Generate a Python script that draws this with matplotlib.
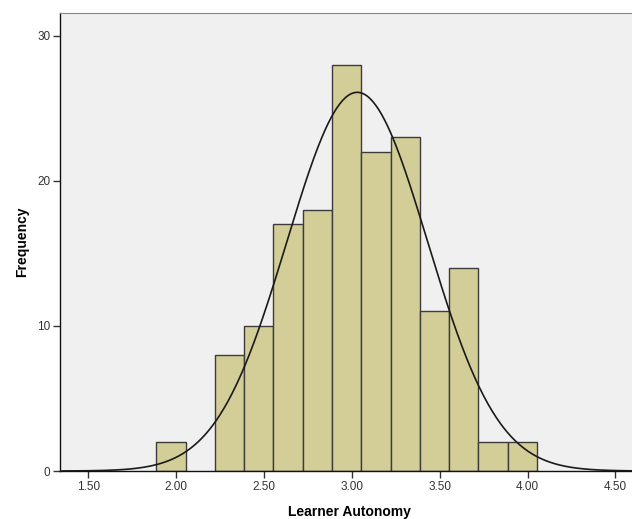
import numpy as np
import matplotlib
matplotlib.use("Agg")
import matplotlib.pyplot as plt

# histogram bins (width 1/6)
bin_start = 1.886
bin_width = 1.0 / 6
counts = [2, 0, 8, 10, 17, 18, 28, 22, 23, 11, 14, 2, 2]

# fitted normal curve
mean = 3.03
std_dev = 0.40
n_total = sum(counts)

xticks = [1.50, 2.00, 2.50, 3.00, 3.50, 4.00, 4.50]
yticks = [0, 10, 20, 30]

plt.rcParams['font.family'] = ['Liberation Sans', 'DejaVu Sans']

fig = plt.figure(figsize=(6.32, 5.19), dpi=100)
ax = fig.add_axes([60 / 632, 48 / 519, 1.0 - 60 / 632 + 0.01, (471 - 12.5) / 519])
ax.set_facecolor('#F0F0F0')

edges = bin_start + bin_width * np.arange(len(counts))
for left, c in zip(edges, counts):
    if c > 0:
        ax.bar(left, c, width=bin_width, align='edge', color='#D3CE98',
               edgecolor='#3C3C3C', linewidth=1.0, zorder=2)

xs = np.linspace(1.35, 4.65, 400)
ys = n_total * bin_width / (std_dev * np.sqrt(2 * np.pi)) * np.exp(-0.5 * ((xs - mean) / std_dev) ** 2)
ax.plot(xs, ys, color='#1a1a1a', linewidth=1.2, zorder=3)

ax.set_xlim(1.338, 4.63)
ax.set_ylim(0, 31.6)
ax.set_xticks(xticks)
ax.set_xticklabels(["%.2f" % t for t in xticks])
ax.set_yticks(yticks)
ax.tick_params(axis='both', direction='out', length=5, width=1.0,
               labelsize=8.5, colors='#333333', pad=2)

for side in ['left', 'bottom']:
    ax.spines[side].set_color('#111111')
    ax.spines[side].set_linewidth(1.0)
ax.spines['top'].set_color('#888888')
ax.spines['right'].set_visible(False)

ax.set_xlabel('Learner Autonomy', fontsize=10, fontweight='bold', labelpad=9)
ax.set_ylabel('Frequency', fontsize=10, fontweight='bold', labelpad=6)

fig.savefig('out.png', dpi=100)
